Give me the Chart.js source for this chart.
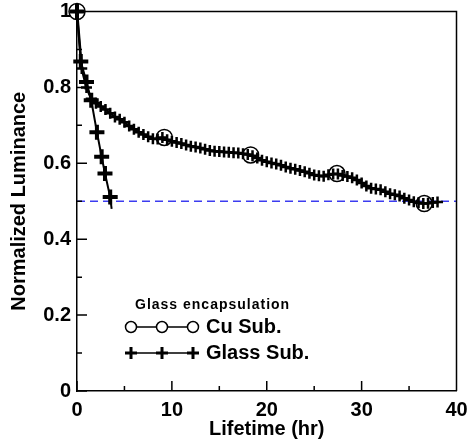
<!DOCTYPE html>
<html>
<head>
<meta charset="utf-8">
<script src="https://cdn.jsdelivr.net/npm/chart.js@4.4.1/dist/chart.umd.min.js"></script>
<style>
  body { margin: 0; background: #fff; }
  canvas { display: block; }
</style>
</head>
<body>
<canvas id="lumChart" width="468" height="448"></canvas>
<script>
// Dados
const cuHours = [0, 0.5, 1, 1.5, 2, 2.5, 3, 3.5, 4, 4.5, 5, 5.5, 6, 6.5, 7, 7.5, 8, 8.5, 9, 9.5,
  10, 10.5, 11, 11.5, 12, 12.5, 13, 13.5, 14, 14.5, 15, 15.5, 16, 16.5, 17, 17.5, 18, 18.5, 19, 19.5,
  20, 20.5, 21, 21.5, 22, 22.5, 23, 23.5, 24, 24.5, 25, 25.5, 26, 26.5, 27, 27.5, 28, 28.5, 29, 29.5,
  30, 30.5, 31, 31.5, 32, 32.5, 33, 33.5, 34, 34.5, 35, 35.5, 36, 36.5, 37, 37.5, 38];
const cuLum = [1.0, 0.85, 0.80, 0.77, 0.758, 0.75, 0.742, 0.732, 0.722, 0.716, 0.708, 0.698, 0.69, 0.682, 0.676, 0.67, 0.665, 0.664, 0.668, 0.662,
  0.658, 0.655, 0.652, 0.648, 0.645, 0.643, 0.64, 0.637, 0.634, 0.632, 0.631, 0.63, 0.629, 0.628, 0.627, 0.625, 0.623, 0.62, 0.614, 0.608,
  0.604, 0.601, 0.598, 0.595, 0.59, 0.587, 0.584, 0.581, 0.578, 0.574, 0.569, 0.567, 0.566, 0.57, 0.572, 0.572, 0.568, 0.565, 0.562, 0.556,
  0.548, 0.54, 0.534, 0.532, 0.53, 0.525, 0.52, 0.517, 0.514, 0.508, 0.503, 0.499, 0.496, 0.494, 0.495, 0.497, 0.498];
const cuMarkHours = [0, 9.2, 18.3, 27.4, 36.6];
const cuMarkLum = [1.0, 0.668, 0.622, 0.573, 0.494];
const glassHours = [0, 0.4, 1.0, 1.5, 2.1, 2.6, 2.95, 3.5, 3.65];
const glassLum = [1.0, 0.868, 0.814, 0.766, 0.682, 0.617, 0.573, 0.511, 0.48];
const halfLife = 0.5;
const xTickLabels = ['0', '10', '20', '30', '40'];
const yTickLabels = ['0', '0.2', '0.4', '0.6', '0.8', '1'];

const FONT = "'Liberation Sans', Arial, sans-serif";
const pts = (xs, ys) => xs.map((x, i) => ({ x: x, y: ys[i] }));

// Ticks internos, moldura e legenda
const frameAndLegend = {
  id: 'frameAndLegend',
  afterDraw(chart) {
    const { ctx, chartArea: a, scales: { x, y } } = chart;
    ctx.save();
    ctx.strokeStyle = '#000';
    ctx.lineWidth = 1.5;
    ctx.beginPath();
    ctx.moveTo(a.left, a.top); ctx.lineTo(a.right, a.top); ctx.lineTo(a.right, a.bottom);
    for (let v = 0; v <= 40; v += 5) {
      const px = x.getPixelForValue(v);
      ctx.moveTo(px, a.bottom); ctx.lineTo(px, a.bottom - (v % 10 === 0 ? 10 : 5));
    }
    for (let i = 0; i <= 10; i++) {
      const py = y.getPixelForValue(i / 10);
      ctx.moveTo(a.left, py); ctx.lineTo(a.left + (i % 2 === 0 ? 10 : 5), py);
    }
    ctx.stroke();

    // Legenda
    ctx.fillStyle = '#000';
    ctx.textBaseline = 'middle';
    ctx.textAlign = 'left';
    ctx.font = 'bold 14px ' + FONT;
    ctx.letterSpacing = '1px';
    ctx.fillText('Glass encapsulation', 135, 305);
    ctx.letterSpacing = '0px';
    ctx.font = 'bold 20px ' + FONT;
    ctx.fillText('Cu Sub.', 206, 327);
    ctx.fillText('Glass Sub.', 206, 353);

    const mx = [131, 162, 193];
    ctx.lineWidth = 1.5;
    ctx.beginPath();
    ctx.moveTo(mx[0], 327); ctx.lineTo(mx[2], 327);
    ctx.moveTo(mx[0], 353); ctx.lineTo(mx[2], 353);
    ctx.stroke();
    mx.forEach(px => {
      ctx.beginPath();
      ctx.fillStyle = '#fff';
      ctx.lineWidth = 1.5;
      ctx.arc(px, 327, 5.5, 0, Math.PI * 2);
      ctx.fill(); ctx.stroke();
      ctx.lineWidth = 3;
      ctx.beginPath();
      ctx.moveTo(px - 6, 353); ctx.lineTo(px + 6, 353);
      ctx.moveTo(px, 347); ctx.lineTo(px, 359);
      ctx.stroke();
    });
    ctx.restore();
  }
};

new Chart(document.getElementById('lumChart'), {
  type: 'scatter',
  data: {
    datasets: [
      {
        label: 'Cu Sub. marks',
        data: pts(cuMarkHours, cuMarkLum),
        showLine: false,
        pointStyle: 'circle',
        pointRadius: 8,
        pointBorderWidth: 1.5,
        pointBorderColor: '#000',
        pointBackgroundColor: 'rgba(255,255,255,0)',
        clip: false
      },
      {
        label: 'Glass Sub.',
        data: pts(glassHours, glassLum),
        showLine: true,
        borderColor: '#000',
        borderWidth: 2,
        pointStyle: 'cross',
        pointRadius: glassHours.map((h, i) => i === glassHours.length - 1 ? 0 : 7.5),
        pointBorderWidth: 4,
        pointBorderColor: '#000',
        clip: false
      },
      {
        label: 'Cu Sub.',
        data: pts(cuHours, cuLum),
        showLine: true,
        borderColor: '#000',
        borderWidth: 2.5,
        pointStyle: 'cross',
        pointRadius: 5.5,
        pointBorderWidth: 2.5,
        pointBorderColor: '#000',
        clip: false
      },
      {
        label: 'T50',
        data: [{ x: 0, y: halfLife }, { x: 40, y: halfLife }],
        showLine: true,
        borderColor: '#3c3cf0',
        borderWidth: 1.5,
        borderDash: [8, 5],
        pointRadius: 0
      }
    ]
  },
  options: {
    responsive: false,
    animation: false,
    layout: { padding: { top: 11, right: 10, left: 0, bottom: 0 } },
    plugins: { legend: { display: false }, tooltip: { enabled: false } },
    scales: {
      x: {
        type: 'linear',
        min: 0, max: 40,
        afterFit(s) { s.height = 57; s.paddingRight = 0; s.paddingLeft = 0; },
        afterBuildTicks(s) { s.ticks = xTickLabels.map(t => ({ value: Number(t) })); },
        grid: { display: false, drawTicks: false },
        border: { display: true, color: '#000', width: 1.5 },
        ticks: {
          padding: 7,
          color: '#000',
          font: { family: FONT, size: 20, weight: 'bold' },
          callback: (v, i) => xTickLabels[i]
        },
        title: {
          display: true,
          text: 'Lifetime (hr)',
          color: '#000',
          font: { family: FONT, size: 20, weight: 'bold' },
          padding: { top: 0, bottom: 7 }
        }
      },
      y: {
        type: 'linear',
        min: 0, max: 1,
        afterFit(s) { s.width = 77; s.paddingTop = 0; s.paddingBottom = 0; },
        afterBuildTicks(s) { s.ticks = yTickLabels.map(t => ({ value: Number(t) })); },
        grid: { display: false, drawTicks: false },
        border: { display: true, color: '#000', width: 1.5 },
        ticks: {
          padding: 6,
          color: '#000',
          font: { family: FONT, size: 20, weight: 'bold' },
          callback: (v, i) => yTickLabels[i]
        },
        title: {
          display: true,
          text: 'Normalized Luminance',
          color: '#000',
          font: { family: FONT, size: 20, weight: 'bold' },
          padding: { top: 7, bottom: 0 }
        }
      }
    }
  },
  plugins: [frameAndLegend]
});
</script>
</body>
</html>
